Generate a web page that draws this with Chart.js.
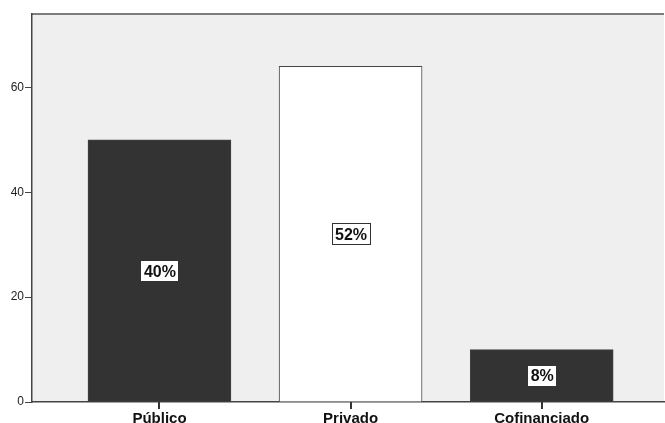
<!DOCTYPE html>
<html>
<head>
<meta charset="utf-8">
<script src="https://cdn.jsdelivr.net/npm/chart.js@4/dist/chart.umd.min.js"></script>
<style>
  html, body { margin: 0; padding: 0; background: #fff; }
  #wrap { width: 665px; height: 423px; }
</style>
</head>
<body>
<div id="wrap"><canvas id="c" width="665" height="423"></canvas></div>
<script>
// Daten
const kategorien = ['Público', 'Privado', 'Cofinanciado'];
const werte      = [50, 64, 10];
const farben     = ['#333333', '#ffffff', '#333333'];
const yTicks     = [0, 20, 40, 60];

const gesamt = werte.reduce((s, v) => s + v, 0);

// Hintergrund + oberer Rahmen, Striche unter den Kategorien
const rahmenPlugin = {
  id: 'rahmen',
  beforeDraw(chart) {
    const { ctx, chartArea: a } = chart;
    ctx.save();
    ctx.fillStyle = '#efefef';
    ctx.fillRect(a.left, a.top, a.right - a.left, a.bottom - a.top);
    ctx.strokeStyle = '#555';
    ctx.lineWidth = 1.5;
    ctx.beginPath();
    ctx.moveTo(a.left, a.top);
    ctx.lineTo(a.right, a.top);
    ctx.stroke();
    ctx.restore();
  },
  afterDraw(chart) {
    const { ctx, scales } = chart;
    const y0 = scales.y.getPixelForValue(0);
    ctx.save();
    ctx.strokeStyle = '#333';
    ctx.lineWidth = 2;
    kategorien.forEach((k, i) => {
      const x = Math.round(scales.x.getPixelForValue(i));
      ctx.beginPath();
      ctx.moveTo(x, y0);
      ctx.lineTo(x, y0 + 7);
      ctx.stroke();
    });
    ctx.restore();
  }
};

// Prozent-Kästchen in der Balkenmitte
const prozentPlugin = {
  id: 'prozent',
  afterDatasetsDraw(chart) {
    const { ctx } = chart;
    const meta = chart.getDatasetMeta(0);
    ctx.save();
    ctx.font = 'bold 16px "Liberation Sans", Arial, sans-serif';
    ctx.textAlign = 'center';
    ctx.textBaseline = 'middle';
    meta.data.forEach((bar, i) => {
      const txt = Math.round(werte[i] / gesamt * 100) + '%';
      const x = bar.x;
      const y = (bar.y + bar.base) / 2;
      const w = Math.round(ctx.measureText(txt).width + 6);
      const h = 21;
      const bx = Math.round(x - w / 2) + 0.5;
      const by = Math.round(y - h / 2) + 0.5;
      ctx.fillStyle = '#fff';
      ctx.fillRect(bx, by, w, h);
      ctx.strokeStyle = '#333';
      ctx.lineWidth = 1;
      ctx.strokeRect(bx, by, w, h);
      ctx.fillStyle = '#111';
      ctx.fillText(txt, x + 0.5, y + 1.5);
    });
    ctx.restore();
  }
};

new Chart(document.getElementById('c'), {
  type: 'bar',
  data: {
    datasets: [{
      data: werte.map((v, i) => ({ x: i, y: v })),
      backgroundColor: farben,
      borderColor: '#444',
      borderWidth: 1,
      barThickness: 143
    }]
  },
  options: {
    responsive: false,
    animation: false,
    layout: { padding: { top: 14, right: 1, left: 0, bottom: 0 } },
    plugins: { legend: { display: false }, tooltip: { enabled: false } },
    scales: {
      x: {
        type: 'linear',
        offset: false,
        min: -0.667,
        max: 2.64,
        afterBuildTicks: s => { s.ticks = kategorien.map((k, i) => ({ value: i })); },
        afterFit: s => { s.height = 21; },
        ticks: {
          callback: (v) => kategorien[v],
          color: '#111',
          font: { family: '"Liberation Sans", Arial, sans-serif', size: 15, weight: 'bold' },
          padding: 3,
          maxRotation: 0,
          autoSkip: false
        },
        grid: { offset: false, drawOnChartArea: false, drawTicks: true, tickLength: 5, color: '#555', lineWidth: 1 },
        border: { display: true, color: '#444', width: 1.5 }
      },
      y: {
        min: 0,
        max: 74,
        afterBuildTicks: s => { s.ticks = yTicks.map(v => ({ value: v })); },
        afterFit: s => { s.width = 32; },
        ticks: {
          color: '#222',
          font: { family: '"Liberation Sans", Arial, sans-serif', size: 12 },
          padding: 1
        },
        grid: { drawOnChartArea: false, drawTicks: true, tickLength: 7, color: '#444', lineWidth: 1 },
        border: { display: true, color: '#444', width: 1.5 }
      }
    }
  },
  plugins: [rahmenPlugin, prozentPlugin]
});
</script>
</body>
</html>
